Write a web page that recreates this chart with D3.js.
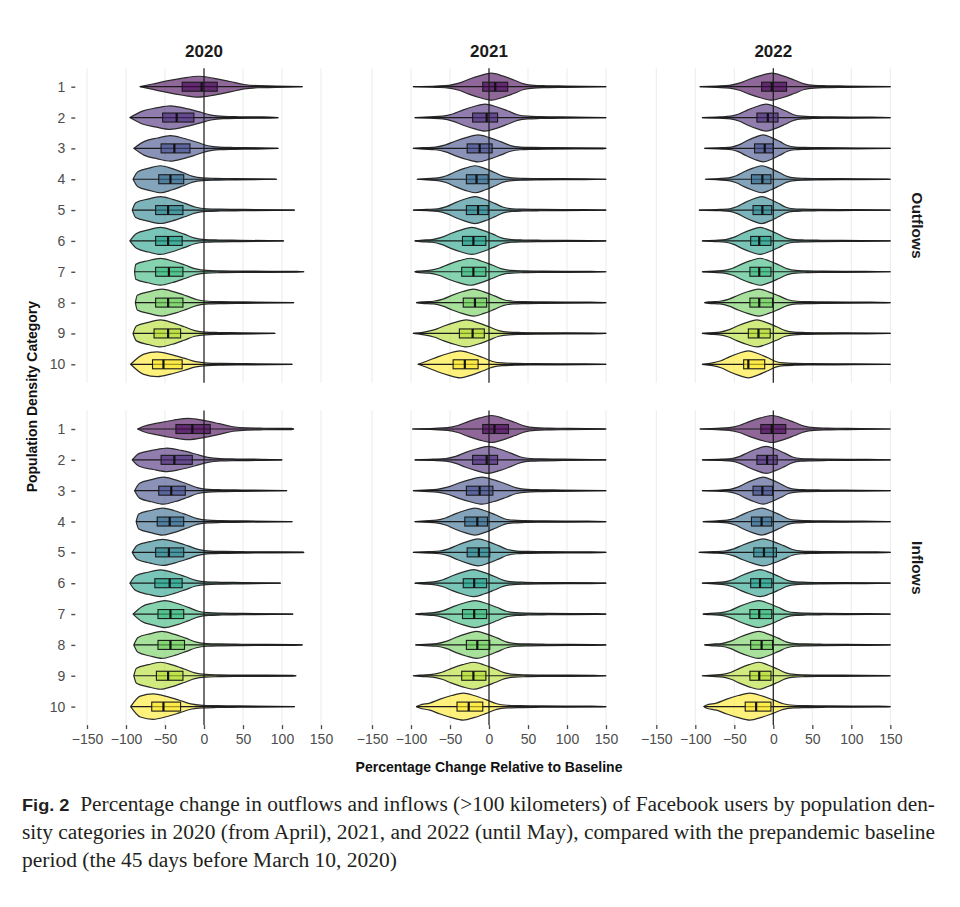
<!DOCTYPE html>
<html>
<head>
<meta charset="utf-8">
<script src="https://cdn.jsdelivr.net/npm/d3@7"></script>
<style>
  body { margin: 0; background: #fff; }
  svg { display: block; }
</style>
</head>
<body>
<svg id="chart"></svg>
<script>
// ---- data ----
const years = ["2020", "2021", "2022"];
const flows = ["Outflows", "Inflows"];
const categories = [1, 2, 3, 4, 5, 6, 7, 8, 9, 10];
const xTicks = [-150, -100, -50, 0, 50, 100, 150];
const categoryColors = ["#440154", "#482878", "#3E4A89", "#31688E", "#26828E",
                        "#1F9E89", "#35B779", "#6DCD59", "#B4DE2C", "#FDE725"];

// one row per panel, in order: Out 2020, Out 2021, Out 2022, In 2020, In 2021, In 2022
const minVals = [
  [-82, -95, -90, -91, -92, -95, -89, -88, -91, -94],
  [-97, -95, -97, -92, -97, -95, -95, -93, -97, -91],
  [-94, -91, -88, -87, -95, -91, -91, -88, -91, -91],
  [-85, -92, -89, -87, -92, -95, -91, -90, -90, -94],
  [-98, -95, -97, -95, -97, -95, -94, -94, -97, -93],
  [-94, -91, -91, -90, -95, -91, -90, -88, -91, -89]
];
const q1Vals = [
  [-28, -53, -55, -58, -62, -62, -62, -62, -64, -66],
  [-8, -21, -28, -29, -29, -34, -35, -33, -38, -46],
  [-15, -21, -24, -28, -26, -29, -30, -30, -32, -38],
  [-36, -55, -58, -60, -62, -63, -59, -59, -61, -67],
  [-8, -21, -29, -31, -28, -33, -34, -29, -35, -41],
  [-16, -21, -26, -28, -25, -29, -30, -29, -30, -36]
];
const medianVals = [
  [-3, -35, -38, -43, -46, -46, -45, -46, -46, -52],
  [8, -3, -12, -16, -14, -20, -20, -18, -21, -31],
  [-2, -7, -11, -14, -14, -18, -18, -18, -19, -32],
  [-15, -38, -42, -44, -45, -44, -43, -43, -46, -52],
  [7, -3, -12, -15, -13, -19, -19, -15, -20, -26],
  [-2, -8, -14, -15, -12, -17, -18, -15, -18, -22]
];
const q3Vals = [
  [17, -13, -18, -26, -27, -28, -27, -27, -30, -28],
  [24, 11, 4, -1, -1, -4, -4, -3, -6, -14],
  [17, 6, 0, -3, -2, -3, -3, -1, -4, -11],
  [8, -15, -24, -26, -26, -28, -26, -25, -27, -30],
  [25, 11, 5, -2, 1, -3, -3, 1, -4, -8],
  [16, 5, -1, -2, 4, -2, -2, -1, -3, -3]
];
const modeVals = [
  [-7, -43, -43, -56, -56, -56, -56, -54, -56, -60],
  [3, -5, -14, -18, -18, -22, -24, -20, -29, -37],
  [-2, -9, -13, -15, -15, -17, -17, -19, -21, -32],
  [-20, -47, -52, -53, -53, -56, -50, -54, -56, -65],
  [3, -1, -9, -18, -14, -20, -18, -16, -20, -33],
  [-2, -9, -13, -15, -13, -17, -19, -19, -19, -30]
];
const maxVals = [
  [126, 95, 95, 93, 116, 102, 128, 115, 91, 113],
  [150, 150, 150, 150, 150, 150, 150, 150, 150, 150],
  [150, 150, 150, 150, 150, 150, 150, 150, 150, 150],
  [115, 100, 106, 113, 128, 98, 114, 126, 118, 116],
  [150, 150, 150, 150, 150, 150, 150, 150, 150, 150],
  [150, 150, 150, 150, 150, 150, 150, 150, 150, 150]
];

// violin outline: offset from the mode in IQR units -> relative half width
const violinProfile = [
  [-3.5, 0.03], [-2.2, 0.05], [-1.7, 0.1], [-1.3, 0.26], [-0.9, 0.55],
  [-0.45, 0.82], [0, 1], [0.45, 0.8], [0.9, 0.5], [1.3, 0.21], [1.7, 0.1],
  [2.2, 0.07], [3, 0.05], [5, 0.03], [9, 0.02], [30, 0.012]
];

const captionLines = [
  "  Percentage change in outflows and inflows (>100 kilometers) of Facebook users by population den-",
  "sity categories in 2020 (from April), 2021, and 2022 (until May), compared with the prepandemic baseline",
  "period (the 45 days before March 10, 2020)"
];

// ---- layout ----
const width = 960, height = 907;
const panelLefts = [75.3, 360.3, 644.6];
const panelW = 257.4;
const panelTops = [68.2, 410.5];
const panelH = 314.6;
const font = "'Liberation Sans', Arial, sans-serif";

const svg = d3.select("#chart")
  .attr("width", width)
  .attr("height", height)
  .style("font-family", font);

svg.append("rect").attr("width", width).attr("height", height).attr("fill", "#fff");

flows.forEach((flow, fi) => {
  const top = panelTops[fi];
  const y = d3.scaleLinear().domain([0.4, 10.6]).range([top, top + panelH]);

  years.forEach((year, yi) => {
    const p = fi * 3 + yi;
    const left = panelLefts[yi];
    const x = d3.scaleLinear().domain([-165, 165]).range([left, left + panelW]);
    const g = svg.append("g");

    // grid
    g.selectAll("line.grid")
      .data(xTicks)
      .join("line")
      .attr("x1", d => x(d)).attr("x2", d => x(d))
      .attr("y1", top).attr("y2", top + panelH)
      .attr("stroke", "#ebebeb")
      .attr("stroke-width", 1);

    const rows = categories.map((c, i) => ({
      cat: c,
      color: categoryColors[i],
      min: minVals[p][i], q1: q1Vals[p][i], med: medianVals[p][i],
      q3: q3Vals[p][i], mode: modeVals[p][i], max: maxVals[p][i]
    }));

    // violins
    const area = d3.area()
      .x(d => x(d[0]))
      .y0(d => d[2] - d[1])
      .y1(d => d[2] + d[1])
      .curve(d3.curveMonotoneX);

    rows.forEach(r => {
      const iqr = r.q3 - r.q1;
      const h = Math.min(13.5, 470 / iqr);
      const cy = y(r.cat);
      const pts = [[r.min, 0, cy]];
      violinProfile.forEach(([o, w]) => {
        const v = r.mode + o * iqr;
        if (v > r.min + 0.5 && v < r.max - 0.5) pts.push([v, w * h, cy]);
      });
      pts.push([r.max, 0, cy]);

      g.append("path")
        .attr("d", area(pts))
        .attr("fill", r.color)
        .attr("fill-opacity", 0.6)
        .attr("stroke", "#2b2b2b")
        .attr("stroke-width", 1.2)
        .attr("stroke-linejoin", "round");

      // whisker / outlier line
      g.append("line")
        .attr("x1", x(r.min)).attr("x2", x(r.max))
        .attr("y1", cy).attr("y2", cy)
        .attr("stroke", "#1a1a1a")
        .attr("stroke-width", 1.2);

      // box
      g.append("rect")
        .attr("x", x(r.q1))
        .attr("y", cy - 4.5)
        .attr("width", x(r.q3) - x(r.q1))
        .attr("height", 9)
        .attr("fill", r.color)
        .attr("fill-opacity", 0.6)
        .attr("stroke", "#1a1a1a")
        .attr("stroke-width", 1.1);
      g.append("line")
        .attr("x1", x(r.med)).attr("x2", x(r.med))
        .attr("y1", cy - 4.5).attr("y2", cy + 4.5)
        .attr("stroke", "#111")
        .attr("stroke-width", 2.2);
    });

    // zero reference line
    g.append("line")
      .attr("x1", x(0)).attr("x2", x(0))
      .attr("y1", top).attr("y2", top + panelH)
      .attr("stroke", "#1a1a1a")
      .attr("stroke-width", 1.2);

    // strip on top
    if (fi === 0) {
      svg.append("text")
        .attr("x", x(0)).attr("y", 57)
        .attr("text-anchor", "middle")
        .attr("font-size", 17)
        .attr("font-weight", "bold")
        .attr("fill", "#1a1a1a")
        .text(year);
    }

    // x axis on bottom row
    if (fi === 1) {
      const ax = svg.append("g")
        .attr("transform", `translate(0,${top + panelH})`)
        .call(d3.axisBottom(x).tickValues(xTicks).tickSize(4).tickPadding(5));
      ax.select(".domain").remove();
      ax.selectAll(".tick line").attr("stroke", "#4d4d4d").attr("stroke-width", 1.3);
      ax.selectAll(".tick text")
        .attr("fill", "#4d4d4d")
        .attr("font-size", 14)
        .attr("font-family", font);
    }

    // y axis on left column
    if (yi === 0) {
      const ay = svg.append("g")
        .attr("transform", `translate(${left},0)`)
        .call(d3.axisLeft(y).tickValues(categories).tickSize(4).tickPadding(6));
      ay.select(".domain").remove();
      ay.selectAll(".tick line").attr("stroke", "#4d4d4d").attr("stroke-width", 1.4);
      ay.selectAll(".tick text")
        .attr("fill", "#4d4d4d")
        .attr("font-size", 14)
        .attr("font-family", font);
    }
  });

  // right strip
  svg.append("text")
    .attr("transform", `translate(912,${top + panelH / 2}) rotate(90)`)
    .attr("text-anchor", "middle")
    .attr("font-size", 15.5)
    .attr("font-weight", "bold")
    .attr("fill", "#1a1a1a")
    .text(flow);
});

// axis titles
svg.append("text")
  .attr("x", 489).attr("y", 772)
  .attr("text-anchor", "middle")
  .attr("font-size", 14)
  .attr("font-weight", "bold")
  .attr("fill", "#111")
  .text("Percentage Change Relative to Baseline");

svg.append("text")
  .attr("transform", `translate(37,${(panelTops[0] + panelTops[1] + panelH) / 2}) rotate(-90)`)
  .attr("text-anchor", "middle")
  .attr("font-size", 14)
  .attr("font-weight", "bold")
  .attr("fill", "#111")
  .text("Population Density Category");

// caption
const cap = svg.append("g")
  .style("font-family", "'Liberation Serif', 'Times New Roman', serif")
  .attr("fill", "#231f20")
  .attr("font-size", 20);

const l1 = cap.append("text")
  .attr("x", 22).attr("y", 811)
  .attr("textLength", 913)
  .attr("lengthAdjust", "spacingAndGlyphs");
l1.append("tspan").attr("font-weight", "bold").attr("font-family", "'Liberation Sans', Arial, sans-serif").attr("font-size", 17).text("Fig. 2");
l1.append("tspan").attr("xml:space", "preserve").text(captionLines[0]);

cap.append("text")
  .attr("x", 22).attr("y", 839)
  .attr("textLength", 913)
  .attr("lengthAdjust", "spacingAndGlyphs")
  .text(captionLines[1]);

cap.append("text")
  .attr("x", 22).attr("y", 867)
  .attr("textLength", 375)
  .attr("lengthAdjust", "spacingAndGlyphs")
  .text(captionLines[2]);
</script>
</body>
</html>
